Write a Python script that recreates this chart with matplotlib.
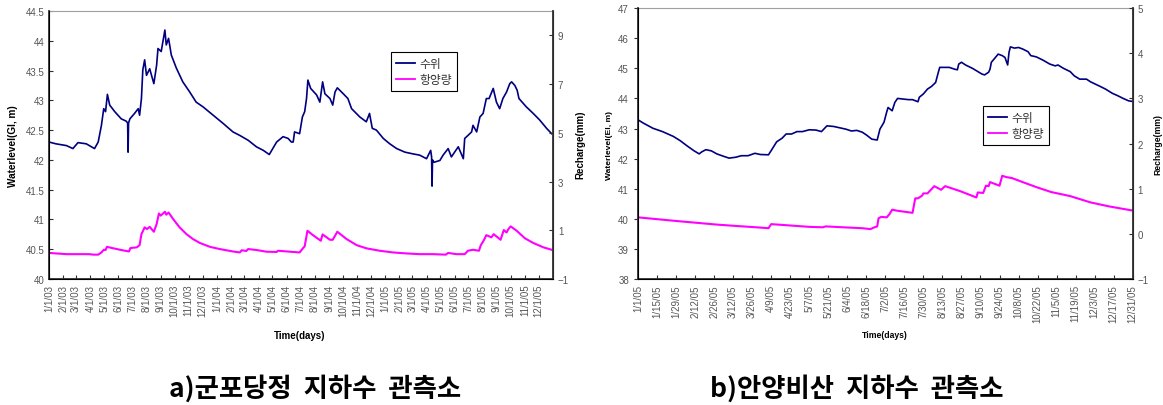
import matplotlib
matplotlib.use("Agg")
import matplotlib.pyplot as plt
import pandas as pd
from matplotlib.lines import Line2D

plt.rcParams["font.family"] = ["Liberation Sans", "Noto Sans CJK KR", "DejaVu Sans"]

# a) 군포당정: daily records 2003-2005 (day offset from 2003-01-01)
wl_a_day = [0, 15, 38, 52, 63, 81, 99, 107, 114, 119, 123, 127, 132, 143, 157, 168, 171, 172, 173,
            176, 186, 194, 197, 201, 204, 208, 212, 219, 228, 234, 237, 244, 252, 255, 260, 266,
            277, 291, 306, 320, 335, 357, 379, 400, 415, 433, 451, 466, 479, 495, 509, 520, 527,
            531, 534, 545, 551, 556, 560, 563, 569, 582, 589, 595, 600, 611, 617, 622, 627, 640,
            650, 658, 676, 690, 697, 703, 712, 727, 741, 756, 774, 792, 806, 821, 830, 832, 833,
            834, 837, 850, 857, 868, 875, 890, 901, 904, 911, 919, 922, 930, 937, 944, 951, 957,
            966, 973, 980, 987, 995, 1002, 1006, 1013, 1018, 1022, 1038, 1053, 1067, 1082, 1093]
wl_a = [42.30, 42.27, 42.24, 42.19, 42.29, 42.27, 42.19, 42.30, 42.58, 42.86, 42.81, 43.10, 42.92,
        42.81, 42.69, 42.65, 42.62, 42.13, 42.62, 42.69, 42.78, 42.86, 42.75, 43.03, 43.51, 43.68,
        43.42, 43.53, 43.28, 43.59, 43.87, 43.82, 44.18, 43.93, 44.04, 43.76, 43.54, 43.31, 43.14,
        42.97, 42.89, 42.75, 42.61, 42.47, 42.41, 42.33, 42.22, 42.16, 42.09, 42.30, 42.39, 42.36,
        42.30, 42.30, 42.47, 42.44, 42.72, 42.81, 43.03, 43.34, 43.20, 43.09, 42.97, 43.31, 43.11,
        43.03, 42.92, 43.14, 43.21, 43.11, 43.03, 42.86, 42.72, 42.64, 42.78, 42.53, 42.50, 42.36,
        42.27, 42.19, 42.13, 42.10, 42.08, 42.02, 42.16, 42.05, 41.56, 42.00, 41.96, 41.99, 42.08,
        42.19, 42.05, 42.22, 42.02, 42.36, 42.41, 42.47, 42.58, 42.47, 42.72, 42.78, 43.03, 43.03,
        43.20, 42.97, 42.86, 43.03, 43.14, 43.28, 43.31, 43.25, 43.17, 43.03, 42.89, 42.78, 42.67,
        42.53, 42.44]

rc_a_day = [0, 38, 88, 96, 107, 114, 119, 123, 126, 140, 157, 174, 177, 191, 197, 201, 208, 213,
            219, 228, 234, 239, 243, 252, 255, 260, 270, 284, 299, 313, 328, 350, 371, 400, 415,
            419, 429, 433, 451, 473, 495, 498, 524, 545, 553, 556, 562, 574, 591, 595, 611, 617,
            627, 647, 669, 690, 719, 748, 777, 806, 835, 863, 868, 886, 904, 911, 922, 935, 939,
            945, 951, 962, 967, 982, 989, 995, 999, 1004, 1017, 1035, 1053, 1075, 1093]
rc_a = [0.07, 0.02, 0.02, 0.00, 0.00, 0.09, 0.20, 0.19, 0.32, 0.26, 0.19, 0.13, 0.27, 0.30, 0.39,
        0.84, 1.12, 1.05, 1.14, 0.94, 1.25, 1.69, 1.60, 1.76, 1.64, 1.73, 1.46, 1.12, 0.84, 0.64,
        0.48, 0.32, 0.23, 0.13, 0.09, 0.18, 0.15, 0.23, 0.19, 0.12, 0.11, 0.16, 0.12, 0.09, 0.28,
        0.34, 0.98, 0.80, 0.57, 0.83, 0.61, 0.61, 0.94, 0.64, 0.39, 0.26, 0.16, 0.09, 0.05, 0.02,
        0.02, 0.00, 0.07, 0.02, 0.02, 0.16, 0.20, 0.16, 0.39, 0.57, 0.80, 0.71, 0.84, 0.61, 1.01,
        0.91, 1.05, 1.16, 0.98, 0.67, 0.48, 0.30, 0.20]

# b) 안양비산: daily records 2005 (day offset from 2005-01-01)
wl_b_day = [0, 4, 11, 18, 26, 31, 36, 41, 45, 47, 50, 54, 58, 63, 67, 72, 76, 81, 86, 90, 96, 98,
            102, 106, 109, 113, 117, 121, 126, 131, 135, 139, 144, 149, 153, 157, 161, 165, 168,
            172, 176, 178, 181, 183, 184, 187, 189, 191, 195, 199, 202, 206, 207, 210, 213, 216,
            219, 221, 222, 226, 229, 233, 235, 236, 238, 241, 246, 249, 253, 255, 258, 259, 260,
            263, 265, 268, 270, 272, 273, 274, 277, 280, 283, 287, 289, 293, 298, 303, 307, 309,
            313, 318, 321, 325, 330, 333, 340, 344, 349, 353, 357, 361, 364]
wl_b = [43.29, 43.18, 43.01, 42.90, 42.74, 42.60, 42.43, 42.27, 42.16, 42.23, 42.30, 42.26, 42.16,
        42.08, 42.02, 42.05, 42.10, 42.10, 42.18, 42.14, 42.13, 42.27, 42.56, 42.68, 42.82, 42.82,
        42.90, 42.90, 42.96, 42.95, 42.90, 43.09, 43.07, 43.02, 42.98, 42.92, 42.94, 42.88, 42.79,
        42.65, 42.62, 42.98, 43.21, 43.55, 43.70, 43.59, 43.87, 44.00, 43.98, 43.96, 43.96, 43.89,
        44.04, 44.15, 44.31, 44.40, 44.53, 44.87, 45.03, 45.03, 45.03, 44.97, 44.95, 45.14, 45.20,
        45.11, 45.00, 44.92, 44.81, 44.78, 44.87, 44.97, 45.20, 45.36, 45.47, 45.42, 45.36, 45.11,
        45.53, 45.71, 45.67, 45.69, 45.64, 45.55, 45.42, 45.38, 45.27, 45.14, 45.08, 45.11, 45.00,
        44.89, 44.75, 44.64, 44.64, 44.55, 44.40, 44.31, 44.17, 44.09, 44.00, 43.92, 43.90]

rc_b_day = [0, 14, 28, 43, 58, 72, 87, 96, 98, 112, 126, 136, 138, 151, 165, 171, 174, 176, 177,
            179, 183, 185, 187, 190, 202, 204, 206, 209, 210, 213, 218, 223, 226, 237, 249, 250,
            254, 256, 258, 259, 266, 268, 271, 275, 283, 293, 304, 318, 333, 347, 364]
rc_b = [0.37, 0.33, 0.29, 0.25, 0.21, 0.18, 0.15, 0.13, 0.22, 0.19, 0.16, 0.15, 0.17, 0.15, 0.13,
        0.11, 0.15, 0.17, 0.35, 0.38, 0.37, 0.44, 0.54, 0.52, 0.47, 0.79, 0.79, 0.85, 0.90, 0.90,
        1.06, 0.98, 1.06, 0.95, 0.81, 0.92, 0.91, 1.07, 1.06, 1.15, 1.07, 1.29, 1.26, 1.24, 1.15,
        1.04, 0.93, 0.84, 0.70, 0.61, 0.52]

legend_labels = ["수위", "항양량"]
captions = ["a)군포당정  지하수  관측소", "b)안양비산  지하수  관측소"]

WL_COLOR = "#000080"
RC_COLOR = "#FF00FF"
TICK_COLOR = "#555555"


def to_dates(start, days):
    return pd.Timestamp(start) + pd.to_timedelta(days, unit="D")


def mdy(d):
    return f"{d.month}/{d.day}/{d.strftime('%y')}"


def style_axes(ax, ax2, left_dir):
    for side in ["left", "bottom"]:
        ax.spines[side].set_color("#303030")
        ax.spines[side].set_linewidth(1.3)
    ax.spines["top"].set_color("#a0a0a0")
    ax.spines["top"].set_linewidth(0.8)
    ax2.spines["right"].set_color("#303030")
    ax2.spines["right"].set_linewidth(1.3)
    ax2.spines["top"].set_visible(False)
    ax.tick_params(axis="y", direction=left_dir, length=3, labelsize=7, colors=TICK_COLOR)
    ax.tick_params(axis="x", direction="in", length=3, labelsize=7, colors=TICK_COLOR,
                   labelrotation=90)
    ax2.tick_params(axis="y", direction="in", length=3, labelsize=7, colors=TICK_COLOR)
    ax.tick_params(axis="both", color="#303030")
    ax2.tick_params(axis="y", color="#303030")


def add_legend(ax2, anchor):
    handles = [Line2D([], [], color=WL_COLOR, lw=1.3), Line2D([], [], color=RC_COLOR, lw=1.3)]
    leg = ax2.legend(handles, legend_labels, loc="upper left", bbox_to_anchor=anchor,
                     bbox_transform=ax2.figure.transFigure, frameon=True, fancybox=False,
                     edgecolor="black", framealpha=1, handlelength=1.6, handletextpad=0.4,
                     borderpad=0.4, labelspacing=0.3, borderaxespad=0,
                     prop={"family": "Noto Sans CJK KR", "size": 8.5})
    leg.get_frame().set_linewidth(0.8)
    for t in leg.get_texts():
        t.set_color("#333333")


W, H = 1163, 406
fig = plt.figure(figsize=(W / 100, H / 100), dpi=100)

# ---- panel a
ax = fig.add_axes([49 / W, 1 - 280 / H, (553 - 49) / W, (280 - 12) / H])
ax2 = ax.twinx()
ax.plot(to_dates("2003-01-01", wl_a_day), wl_a, color=WL_COLOR, lw=1.2)
ax2.plot(to_dates("2003-01-01", rc_a_day), rc_a, color=RC_COLOR, lw=1.5)
ax.set_xlim(pd.Timestamp("2003-01-01"), pd.Timestamp("2006-01-01"))
ax.set_ylim(40, 44.5)
ax.set_yticks([40 + 0.5 * i for i in range(10)])
ax.set_yticklabels([f"{40 + 0.5 * i:g}" for i in range(10)])
ax2.set_ylim(-1, 10)
ax2.set_yticks([-1, 1, 3, 5, 7, 9])
ax2.set_yticklabels(["\u22121", "1", "3", "5", "7", "9"])
months_a = pd.date_range("2003-01-01", "2005-12-01", freq="MS")
ax.set_xticks(months_a)
ax.set_xticklabels([mdy(d) for d in months_a])
style_axes(ax, ax2, "in")
fig.text(13 / W, 1 - 146 / H, "Waterlevel(GI, m)", rotation=90, ha="center", va="center",
         fontsize=7.2, fontweight="bold")
fig.text(580 / W, 1 - 145 / H, "Recharge(mm)", rotation=90, ha="center", va="center",
         fontsize=7, fontweight="bold")
fig.text(300 / W, 1 - 336 / H, "Time(days)", ha="center", va="center",
         fontsize=7, fontweight="bold")
add_legend(ax2, (391 / W, 1 - 53 / H))

# ---- panel b
bx = fig.add_axes([638 / W, 1 - 280.3 / H, (1132.7 - 638) / W, (280.3 - 9) / H])
bx2 = bx.twinx()
bx.plot(to_dates("2005-01-01", wl_b_day), wl_b, color=WL_COLOR, lw=1.2)
bx2.plot(to_dates("2005-01-01", rc_b_day), rc_b, color=RC_COLOR, lw=1.5)
bx.set_xlim(pd.Timestamp("2005-01-01"), pd.Timestamp("2005-12-31"))
bx.set_ylim(38, 47)
bx.set_yticks(range(38, 48))
bx2.set_ylim(-1, 5)
bx2.set_yticks(range(-1, 6))
bx2.set_yticklabels(["\u22121", "0", "1", "2", "3", "4", "5"])
days_b = pd.date_range("2005-01-01", "2005-12-31", freq="14D")
bx.set_xticks(days_b)
bx.set_xticklabels([mdy(d) for d in days_b])
style_axes(bx, bx2, "out")
fig.text(610 / W, 1 - 146 / H, "Waterlevel(El, m)", rotation=90, ha="center", va="center",
         fontsize=6.1, fontweight="bold")
fig.text(1158 / W, 1 - 145 / H, "Recharge(mm)", rotation=90, ha="center", va="center",
         fontsize=6.2, fontweight="bold")
fig.text(885 / W, 1 - 335 / H, "Time(days)", ha="center", va="center",
         fontsize=6.2, fontweight="bold")
add_legend(bx2, (983 / W, 1 - 107 / H))

# captions
fig.text(315 / W, 1 - 389 / H, captions[0], ha="center", va="center", fontsize=19,
         fontweight="bold", family=["Noto Sans CJK KR"])
fig.text(857 / W, 1 - 389 / H, captions[1], ha="center", va="center", fontsize=19,
         fontweight="bold", family=["Noto Sans CJK KR"])

fig.savefig("out.png", dpi=100)
